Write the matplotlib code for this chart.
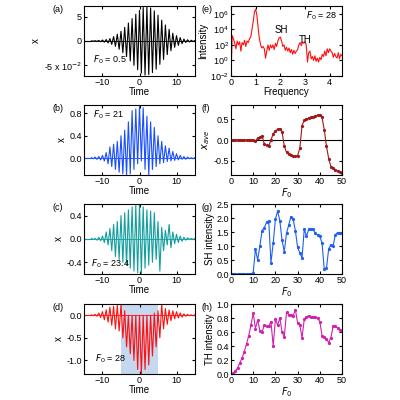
import numpy as np
import matplotlib.pyplot as plt

plt.rcParams['font.family'] = 'Liberation Sans'
plt.rcParams['font.size'] = 6.5

# peak values of each half cycle, starting at t = -13, step 0.5
wave_a = [0.03,-0.04,0.05,-0.07,0.1,-0.15,0.2,-0.25,0.3,-0.4,0.5,-0.7,0.9,-1.1,1.4,-1.7,2.0,-2.4,2.8,-3.2,
          3.7,-4.1,4.6,-5.0,5.5,-5.9,6.3,-6.6,6.9,-7.0,7.0,-6.9,6.8,-6.5,6.2,-5.8,5.3,-4.8,4.3,-3.8,3.3,-2.8,
          2.4,-2.0,1.6,-1.3,1.1,-0.9,0.7,-0.55,0.4,-0.3,0.25,-0.2,0.15,-0.12,0.1]
wave_b = [0.01,-0.01,0.02,-0.02,0.03,-0.03,0.05,-0.05,0.1,-0.1,0.2,-0.15,0.25,-0.2,0.3,-0.25,0.4,-0.28,0.5,-0.3,
          0.65,-0.28,0.85,-0.2,0.88,-0.1,0.92,-0.05,0.9,-0.2,0.75,-0.3,0.65,-0.2,0.55,-0.15,0.4,-0.1,0.3,-0.08,
          0.22,-0.06,0.18,-0.05,0.12,-0.04,0.08,-0.03,0.05,-0.02,0.03,-0.02,0.02,-0.01,0.01,-0.01,0.01]
wave_c = [0.01,-0.01,0.01,-0.02,0.03,-0.03,0.05,-0.06,0.12,-0.1,0.18,-0.2,0.25,-0.3,0.3,-0.35,0.4,-0.4,0.45,-0.45,
          0.5,-0.5,0.55,-0.55,0.58,-0.58,0.6,-0.6,0.55,-0.5,0.5,-0.45,0.48,-0.4,0.45,-0.35,0.3,-0.55,0.2,-0.2,
          0.15,-0.1,0.25,-0.15,0.12,-0.08,0.08,-0.06,0.05,-0.04,0.03,-0.02,0.02,-0.01,0.01,-0.01,0.01]
wave_d = [0.01,-0.01,0.02,-0.02,0.05,-0.05,0.08,-0.1,0.12,-0.15,0.18,-0.22,0.2,-0.3,0.22,-0.35,0.25,-0.5,0.1,-0.7,
          0.0,-0.85,0.0,-1.0,0.0,-1.2,0.0,-1.3,0.0,-1.2,0.0,-1.1,0.0,-0.9,0.05,-0.7,0.1,-0.5,0.25,-0.3,
          0.15,-0.2,0.12,-0.12,0.1,-0.08,0.08,-0.06,0.05,-0.04,0.03,-0.02,0.02,-0.01,0.01,-0.01,0.01]

# spectrum, log10 intensity at frequency 0, 0.05, ... 4.5
spec_log = [-2,3.2,2.8,2.2,1.5,2.5,2.0,2.4,1.2,2.3,2.0,2.6,1.8,2.5,2.3,2.8,3.0,4.0,5.0,6.2,6.6,5.8,4.2,2.8,2.0,
            1.6,1.8,1.5,0.3,1.2,2.0,1.3,2.0,1.6,2.0,1.4,2.2,1.8,2.5,2.9,3.0,2.5,1.8,2.0,1.3,1.7,1.2,1.6,1.0,1.4,
            0.8,1.3,0.9,1.2,1.4,2.0,2.3,1.9,2.4,2.2,2.4,2.0,-0.2,1.0,1.2,0.2,0.5,0.0,0.6,-0.1,0.3,-0.2,0.4,0.1,
            0.8,0.5,1.2,0.6,1.5,1.0,1.5,1.2,1.0,0.4,0.9,0.5,0.3,1.0,0.2,0.8,0.6]

F0 = list(range(51))
x_ave = [0]*11 + [-0.03,0.05,0.07,0.1,-0.1,-0.13,-0.15,0.0,0.15,0.22,0.26,0.27,0.2,-0.15,-0.3,-0.35,-0.37,-0.38,
         -0.4,-0.38,-0.2,0.35,0.48,0.52,0.53,0.55,0.57,0.58,0.6,0.6,0.55,0.25,-0.15,-0.45,-0.65,-0.68,-0.72,
         -0.75,-0.78,-0.8]
sh = [0]*10 + [0.03,0.9,0.5,1.0,1.55,1.65,1.85,1.9,0.4,1.1,1.95,2.25,1.9,1.2,0.8,1.45,1.75,2.05,1.95,1.55,0.95,
      0.75,0.58,1.6,1.35,1.6,1.6,1.6,1.45,1.4,1.35,1.1,0.18,0.2,0.9,1.05,1.0,1.4,1.48,1.48,1.45]
th = [0,0.01,0.04,0.09,0.16,0.23,0.32,0.43,0.55,0.7,0.87,0.65,0.77,0.62,0.6,0.7,0.68,0.68,0.75,0.4,0.78,0.7,0.8,
      0.6,0.53,0.88,0.85,0.84,0.83,0.92,0.73,0.7,0.52,0.78,0.82,0.83,0.82,0.82,0.81,0.8,0.75,0.55,0.53,0.5,0.45,
      0.52,0.68,0.68,0.66,0.63,0.62]

fig = plt.figure(figsize=(4, 4), dpi=100)
lefts = [0.21, 0.5775]
bottoms = [0.81, 0.5625, 0.315, 0.065]
W, H = 0.2775, 0.175

def style(ax):
    ax.tick_params(direction='in', length=2, top=True, right=True, pad=1.5)

waves = [wave_a, wave_b, wave_c, wave_d]
wcols = ['black', '#1a4fff', '#109e9e', '#ff1010']
ylims = [(-7.2, 7.2), (-0.3, 0.95), (-0.6, 0.6), (-1.3, 0.25)]
yticks = [[-5, 0, 5], [0, 0.4, 0.8], [-0.4, 0, 0.4], [-1.0, -0.5, 0.0]]
ylabels = [['-5 x 10$^{-2}$', '0', '5'], ['0.0', '0.4', '0.8'], ['-0.4', '0.0', '0.4'], ['-1.0', '-0.5', '0.0']]
flabel = ['0.5', '21', '23.4', '28']
fpos = [(0.08, 0.2), (0.08, 0.82), (0.06, 0.1), (0.1, 0.18)]
for i in range(4):
    ax = fig.add_axes([lefts[0], bottoms[i], W, H])
    t = -13 + 0.5*np.arange(len(waves[i]))
    if i == 3:
        ax.axvspan(-5, 5, color='#c6d8f0', lw=0)
    ax.plot([-15, -13], [0, 0], color=wcols[i], lw=0.8)
    ax.plot(t, waves[i], color=wcols[i], lw=0.8)
    ax.axhline(0, color=wcols[i], lw=0.6)
    ax.set_xlim(-15, 15)
    ax.set_ylim(*ylims[i])
    ax.set_xticks([-10, 0, 10])
    ax.set_yticks(yticks[i])
    ax.set_yticklabels(ylabels[i])
    ax.set_xlabel('Time', labelpad=0, fontsize=7)
    ax.set_ylabel('x', labelpad=2, fontsize=7)
    ax.text(*fpos[i], '$F_0$ = ' + flabel[i], transform=ax.transAxes)
    ax.text(-0.28, 0.95, '(' + 'abcd'[i] + ')', transform=ax.transAxes, va='center')
    style(ax)

# (e) spectrum
ax = fig.add_axes([lefts[1], bottoms[0], W, H])
freq = 0.05*np.arange(len(spec_log))
ax.semilogy(freq, 10**np.array(spec_log), color='#ff1010', lw=0.8)
ax.set_xlim(0, 4.5)
ax.set_ylim(1e-2, 1e7)
ax.set_yticks([1e-2, 1e0, 1e2, 1e4, 1e6])
ax.minorticks_off()
ax.set_xticks([0, 1, 2, 3, 4])
ax.set_xlabel('Frequency', labelpad=0, fontsize=7)
ax.set_ylabel('Intensity', labelpad=1, fontsize=7)
ax.text(1.75, 3e3, 'SH', fontsize=7)
ax.text(2.75, 2e2, 'TH', fontsize=7)
ax.text(0.68, 0.82, '$F_0$ = 28', transform=ax.transAxes)
ax.text(-0.27, 0.95, '(e)', transform=ax.transAxes, va='center')
style(ax)

# (f)-(h)
series = [x_ave, sh, th]
cols = ['#a01818', '#2060f0', '#d020b0']
ylbl = ['$x_{ave}$', 'SH intensity', 'TH intensity']
ylm = [(-0.85, 0.85), (0, 2.5), (0, 1.0)]
ytk = [[-0.5, 0, 0.5], [0, 0.5, 1.0, 1.5, 2.0, 2.5], [0, 0.2, 0.4, 0.6, 0.8, 1.0]]
ytl = [['-0.5', '0.0', '0.5'], ['0.0', '0.5', '1.0', '1.5', '2.0', '2.5'], ['0.0', '0.2', '0.4', '0.6', '0.8', '1.0']]
for k in range(3):
    ax = fig.add_axes([lefts[1], bottoms[k+1], W, H])
    if k == 0:
        ax.axhline(0, color='black', lw=0.8)
    ax.plot(F0, series[k], color=cols[k], lw=0.8, marker='o', ms=1.3)
    ax.set_xlim(0, 50)
    ax.set_ylim(*ylm[k])
    ax.set_xticks([0, 10, 20, 30, 40, 50])
    ax.set_yticks(ytk[k])
    ax.set_yticklabels(ytl[k])
    ax.set_xlabel('$F_0$', labelpad=0, fontsize=7)
    ax.set_ylabel(ylbl[k], labelpad=1, fontsize=7)
    ax.text(-0.27, 0.95, '(' + 'fgh'[k] + ')', transform=ax.transAxes, va='center')
    style(ax)

fig.savefig('out.png', dpi=100)
